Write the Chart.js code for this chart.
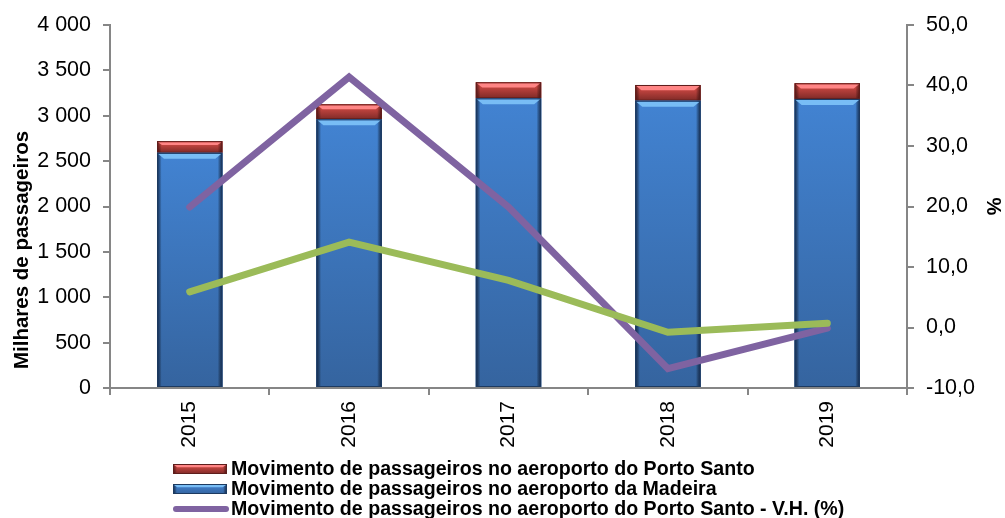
<!DOCTYPE html>
<html>
<head>
<meta charset="utf-8">
<script src="https://cdn.jsdelivr.net/npm/chart.js@4/dist/chart.umd.min.js"></script>
<style>
	body { margin: 0; background: #fff; }
	canvas { display: block; }
</style>
</head>
<body>
<canvas id="passChart" width="1005" height="518"></canvas>
<script>
const years = ["2015", "2016", "2017", "2018", "2019"];
// milhares de passageiros
const madeira = [2591, 2961, 3192, 3166, 3185];
const portoSanto = [129, 165, 177, 173, 173];
// variação homóloga (%)
const vhPortoSanto = [19.9, 41.4, 19.9, -6.8, -0.1];
const vhMadeira = [5.9, 14.1, 7.8, -0.8, 0.7];
const leftTicks = { min: 0, max: 4000, step: 500 };
const rightTicks = { min: -10, max: 50, step: 10 };

const fontFamily = "'Liberation Sans', Arial, sans-serif";
const axisGray = "#868686";

const blueStyle = { top: "#4283d2", bottom: "#35649f", edge: "rgba(15,35,70,0.85)", light: "#78bdf5", line: "#1d3a60" };
const redStyle = { top: "#e0504a", bottom: "#7e2a27", edge: "rgba(60,10,10,0.7)", light: "#ff8585", line: "#5e1e1c" };

const drawBevel = (ctx, l, t, w, h, c) => {
	const r = l + w;
	const b = t + h;
	const bv = Math.min(6, h / 3);
	let g = ctx.createLinearGradient(0, t, 0, b);
	g.addColorStop(0, c.top);
	g.addColorStop(1, c.bottom);
	ctx.fillStyle = g;
	ctx.fillRect(l, t, w, h);
	let gs = ctx.createLinearGradient(l, 0, r, 0);
	gs.addColorStop(0, c.edge);
	gs.addColorStop(0.07, "rgba(0,0,0,0)");
	gs.addColorStop(0.93, "rgba(0,0,0,0)");
	gs.addColorStop(1, c.edge);
	ctx.fillStyle = gs;
	ctx.fillRect(l, t, w, h);
	ctx.fillStyle = c.light;
	ctx.beginPath();
	ctx.moveTo(l + 1, t + 1);
	ctx.lineTo(r - 1, t + 1);
	ctx.lineTo(r - 1 - bv, t + bv);
	ctx.lineTo(l + 1 + bv, t + bv);
	ctx.closePath();
	ctx.fill();
	ctx.strokeStyle = c.line;
	ctx.lineWidth = 1;
	ctx.strokeRect(l + 0.5, t + 0.5, w - 1, h - 1);
};

// desenha o relevo das barras por cima das barras do Chart.js
const bevelPlugin = {
	id: "bevel",
	afterDatasetDraw: (chart, args) => {
		const ds = chart.data.datasets[args.index];
		if (!ds.bevel) return;
		const ctx = chart.ctx;
		ctx.save();
		args.meta.data.forEach((el) => {
			const p = el.getProps(["x", "y", "base", "width"], true);
			const t = Math.min(p.y, p.base);
			const h = Math.abs(p.base - p.y);
			drawBevel(ctx, p.x - p.width / 2, t, p.width, h, ds.bevel);
		});
		ctx.restore();
	},
};

// título do eixo esquerdo (no original não está centrado no eixo)
// e legenda em coluna, alinhada à esquerda (a 4.ª entrada fica fora da imagem)
const legendPlugin = {
	id: "colLegend",
	afterDraw: (chart) => {
		const ctx = chart.ctx;
		ctx.save();
		ctx.translate(22, 250);
		ctx.rotate(-Math.PI / 2);
		ctx.fillStyle = "#000";
		ctx.font = "bold 20.5px " + fontFamily;
		ctx.textAlign = "center";
		ctx.textBaseline = "middle";
		ctx.fillText("Milhares de passageiros", 0, 0);
		ctx.restore();

		const order = [1, 0, 2, 3];
		ctx.save();
		order.forEach((idx, i) => {
			const ds = chart.data.datasets[idx];
			const y = 469 + i * 20;
			if (ds.bevel) {
				drawBevel(ctx, 173, y - 5, 54, 10, ds.bevel);
			} else {
				ctx.strokeStyle = ds.borderColor;
				ctx.lineWidth = 6;
				ctx.lineCap = "round";
				ctx.beginPath();
				ctx.moveTo(176, y);
				ctx.lineTo(226, y);
				ctx.stroke();
			}
			ctx.fillStyle = "#000";
			ctx.font = "bold 19.6px " + fontFamily;
			ctx.textBaseline = "middle";
			ctx.textAlign = "left";
			ctx.fillText(ds.label, 231, y + 1);
		});
		ctx.restore();
	},
};

const ctx = document.getElementById("passChart");
const passChart = new Chart(ctx, {
	type: "bar",
	data: {
		labels: years,
		datasets: [
			{
				label: "Movimento de passageiros no aeroporto da Madeira",
				data: madeira,
				backgroundColor: blueStyle.top,
				bevel: blueStyle,
				yAxisID: "y",
				order: 2,
				barPercentage: 1,
				categoryPercentage: 0.41,
			},
			{
				label: "Movimento de passageiros no aeroporto do Porto Santo",
				data: portoSanto,
				backgroundColor: redStyle.top,
				bevel: redStyle,
				yAxisID: "y",
				order: 3,
				barPercentage: 1,
				categoryPercentage: 0.41,
			},
			{
				type: "line",
				label: "Movimento de passageiros no aeroporto do Porto Santo - V.H. (%)",
				data: vhPortoSanto,
				borderColor: "#7f63a1",
				borderWidth: 7,
				borderCapStyle: "round",
				borderJoinStyle: "miter",
				pointRadius: 0,
				tension: 0,
				yAxisID: "y1",
				order: 1,
			},
			{
				type: "line",
				label: "Movimento de passageiros no aeroporto da Madeira - V.H. (%)",
				data: vhMadeira,
				borderColor: "#9bbb59",
				borderWidth: 7,
				borderCapStyle: "round",
				borderJoinStyle: "miter",
				pointRadius: 0,
				tension: 0,
				yAxisID: "y1",
				order: 0,
			},
		],
	},
	options: {
		responsive: false,
		animation: false,
		layout: { padding: { top: 25, left: 0, right: 0, bottom: 0 } },
		plugins: {
			legend: { display: false },
			tooltip: { enabled: false },
		},
		scales: {
			x: {
				stacked: true,
				border: { color: axisGray, width: 2 },
				grid: { offset: true, drawOnChartArea: false, tickLength: 7, color: axisGray, lineWidth: 2 },
				ticks: {
					autoSkip: false,
					maxRotation: 90,
					minRotation: 90,
					padding: 6,
					color: "#000",
					font: { family: fontFamily, size: 21 },
				},
				afterFit: (scale) => {
					scale.height = 130;
				},
			},
			y: {
				stacked: true,
				position: "left",
				min: leftTicks.min,
				max: leftTicks.max,
				border: { color: axisGray, width: 2 },
				grid: { drawOnChartArea: false, tickLength: 7, color: axisGray, lineWidth: 2 },
				ticks: {
					stepSize: leftTicks.step,
					padding: 12,
					color: "#000",
					font: { family: fontFamily, size: 21.5 },
					callback: (v) => String(v).replace(/\B(?=(\d{3})+(?!\d))/g, " "),
				},
				afterFit: (scale) => {
					scale.width = 110;
				},
			},
			y1: {
				position: "right",
				min: rightTicks.min,
				max: rightTicks.max,
				border: { color: axisGray, width: 2 },
				grid: { drawOnChartArea: false, tickLength: 7, color: axisGray, lineWidth: 2 },
				ticks: {
					stepSize: rightTicks.step,
					padding: 12,
					color: "#000",
					font: { family: fontFamily, size: 21.5 },
					callback: (v) => v.toFixed(1).replace(".", ","),
				},
				title: {
					display: true,
					text: "%",
					color: "#000",
					font: { family: fontFamily, size: 20, weight: "bold" },
					padding: { top: 0, bottom: 0 },
				},
				afterFit: (scale) => {
					scale.width = 98;
				},
			},
		},
	},
	plugins: [bevelPlugin, legendPlugin],
});
</script>
</body>
</html>
